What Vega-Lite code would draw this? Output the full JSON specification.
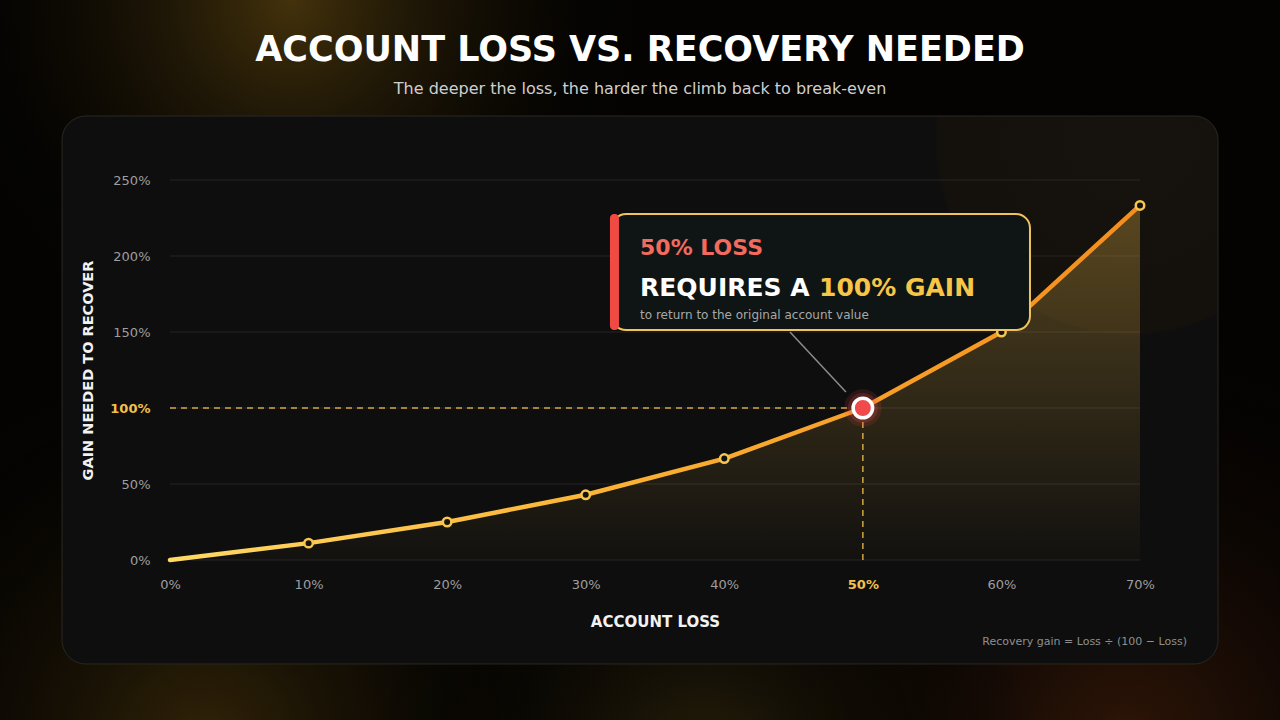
{
  "$schema": "https://vega.github.io/schema/vega-lite/v6.json",
  "width": 970,
  "height": 380,
  "autosize": {"type": "none"},
  "padding": {"left": 170, "top": 180, "right": 140, "bottom": 160},
  "background": "#040302",
  "config": {
    "view": {"stroke": null},
    "font": "DejaVu Sans"
  },
  "datasets": {
    "canvas": [{"x": -12.27, "x2": 80.1, "y": 368.42, "y2": -105.26}],
    "card": [{"x": -7.79, "x2": 75.63, "y": 292.1, "y2": -68.4}],
    "grid": [
      {"x": 0, "x2": 70, "y": 0},
      {"x": 0, "x2": 70, "y": 50},
      {"x": 0, "x2": 70, "y": 100},
      {"x": 0, "x2": 70, "y": 150},
      {"x": 0, "x2": 70, "y": 200},
      {"x": 0, "x2": 70, "y": 250}
    ],
    "curve": [
      {"loss": 0, "gain": 0},
      {"loss": 10, "gain": 11.1},
      {"loss": 20, "gain": 25},
      {"loss": 30, "gain": 42.9},
      {"loss": 40, "gain": 66.7},
      {"loss": 50, "gain": 100},
      {"loss": 60, "gain": 150},
      {"loss": 70, "gain": 233.3}
    ],
    "refs": [
      {"x": 0, "y": 100, "x2": 50, "y2": 100},
      {"x": 50, "y": 0, "x2": 50, "y2": 100}
    ],
    "connector": [{"x": 44.74, "y": 150, "x2": 48.78, "y2": 110.5}],
    "highlight": [{"x": 50, "y": 100}],
    "box": [{"x": 31.9, "x2": 62.06, "y": 227.6, "y2": 151.3}],
    "bar": [{"x": 31.75, "x2": 32.4, "y": 227.6, "y2": 151.3}],
    "title": [{"x": 33.92, "y": 335.5, "text": "ACCOUNT LOSS VS. RECOVERY NEEDED"}],
    "subtitle": [{"x": 33.92, "y": 309.9, "text": "The deeper the loss, the harder the climb back to break-even"}],
    "loss": [{"x": 33.92, "y": 205.5, "text": "50% LOSS"}],
    "requires": [{"x": 33.92, "y": 179.0, "text": "REQUIRES A"}],
    "gainText": [{"x": 46.84, "y": 179.0, "text": "100% GAIN"}],
    "note": [{"x": 33.92, "y": 161.5, "text": "to return to the original account value"}],
    "footnote": [{"x": 73.39, "y": -53.95, "text": "Recovery gain = Loss ÷ (100 − Loss)"}]
  },
  "encoding": {
    "x": {"field": "x", "type": "quantitative", "scale": {"domain": [0, 70], "nice": false, "zero": false},
      "axis": {"values": [0, 10, 20, 30, 40, 50, 60, 70], "labelExpr": "datum.value + '%'", "domain": false, "ticks": false, "grid": false, "labelFlush": false, "labelOverlap": false, "labelPadding": 18, "labelFontSize": 13,
        "labelColor": {"condition": {"test": "datum.value == 50", "value": "#f5c04a"}, "value": "#9e9e9e"},
        "labelFontWeight": {"condition": {"test": "datum.value == 50", "value": "bold"}, "value": "normal"},
        "title": "ACCOUNT LOSS", "titleFontSize": 15, "titleFontWeight": "bold", "titleColor": "#f2f2f2", "titlePadding": 23, "zindex": 1}},
    "y": {"field": "y", "type": "quantitative", "scale": {"domain": [0, 250], "nice": false, "zero": false},
      "axis": {"values": [0, 50, 100, 150, 200, 250], "labelExpr": "datum.value + '%'", "domain": false, "ticks": false, "grid": false, "labelOverlap": false, "labelPadding": 20, "labelFontSize": 13,
        "labelColor": {"condition": {"test": "datum.value == 100", "value": "#f5c04a"}, "value": "#9e9e9e"},
        "labelFontWeight": {"condition": {"test": "datum.value == 100", "value": "bold"}, "value": "normal"},
        "title": "GAIN NEEDED TO RECOVER", "titleFontSize": 14.5, "titleFontWeight": "bold", "titleColor": "#f2f2f2", "titlePadding": 14, "zindex": 1}}
  },
  "layer": [
    {
      "data": {"name": "canvas"},
      "mark": {"type": "rect", "fill": {"gradient": "radial", "x1": 0.227, "y1": 0.219, "r1": 0, "x2": 0.227, "y2": 0.219, "r2": 0.29, "stops": [{"offset": 0, "color": "rgba(68,50,12,1)"}, {"offset": 1, "color": "rgba(0,0,0,0)"}]}},
      "encoding": {"x2": {"field": "x2"}, "y2": {"field": "y2"}}
    },
    {
      "data": {"name": "canvas"},
      "mark": {"type": "rect", "fill": {"gradient": "radial", "x1": 0.16, "y1": 0.8, "r1": 0, "x2": 0.16, "y2": 0.8, "r2": 0.32, "stops": [{"offset": 0, "color": "rgba(50,36,8,1)"}, {"offset": 1, "color": "rgba(0,0,0,0)"}]}},
      "encoding": {"x2": {"field": "x2"}, "y2": {"field": "y2"}}
    },
    {
      "data": {"name": "canvas"},
      "mark": {"type": "rect", "fill": {"gradient": "radial", "x1": 0.88, "y1": 0.8, "r1": 0, "x2": 0.88, "y2": 0.8, "r2": 0.34, "stops": [{"offset": 0, "color": "rgba(48,22,8,1)"}, {"offset": 1, "color": "rgba(0,0,0,0)"}]}},
      "encoding": {"x2": {"field": "x2"}, "y2": {"field": "y2"}}
    },
    {
      "data": {"name": "canvas"},
      "mark": {"type": "rect", "fill": {"gradient": "radial", "x1": 0.55, "y1": 0.82, "r1": 0, "x2": 0.55, "y2": 0.82, "r2": 0.26, "stops": [{"offset": 0, "color": "rgba(40,32,10,1)"}, {"offset": 1, "color": "rgba(0,0,0,0)"}]}},
      "encoding": {"x2": {"field": "x2"}, "y2": {"field": "y2"}}
    },
    {
      "data": {"name": "card"},
      "mark": {"type": "rect", "cornerRadius": 24, "stroke": "#2b2823", "strokeWidth": 1, "fill": {"gradient": "radial", "x1": 0.924, "y1": 0.284, "r1": 0, "x2": 0.924, "y2": 0.284, "r2": 0.169, "stops": [{"offset": 0, "color": "#16130e"}, {"offset": 0.985, "color": "#14110d"}, {"offset": 1, "color": "#0e0e0e"}]}},
      "encoding": {"x2": {"field": "x2"}, "y2": {"field": "y2"}}
    },
    {
      "data": {"name": "grid"},
      "mark": {"type": "rule", "stroke": "#272522", "strokeWidth": 1},
      "encoding": {"x2": {"field": "x2"}}
    },
    {
      "data": {"name": "curve"},
      "mark": {"type": "area", "line": false, "fill": {"gradient": "linear", "x1": 0, "y1": 0, "x2": 0, "y2": 1, "stops": [{"offset": 0, "color": "rgba(245,192,74,0.30)"}, {"offset": 1, "color": "rgba(245,192,74,0.02)"}]}},
      "encoding": {
        "x": {"field": "loss", "type": "quantitative"},
        "y": {"field": "gain", "type": "quantitative"}
      }
    },
    {
      "data": {"name": "refs"},
      "mark": {"type": "rule", "stroke": "#f5c04a", "strokeWidth": 1.5, "strokeDash": [6, 5], "opacity": 0.85},
      "encoding": {"x2": {"field": "x2"}, "y2": {"field": "y2"}}
    },
    {
      "data": {"name": "connector"},
      "mark": {"type": "rule", "stroke": "#8c8c8c", "strokeWidth": 1.5},
      "encoding": {"x2": {"field": "x2"}, "y2": {"field": "y2"}}
    },
    {
      "data": {"name": "curve"},
      "mark": {"type": "line", "strokeWidth": 4.5, "strokeCap": "round", "strokeJoin": "round", "stroke": {"gradient": "linear", "x1": 0, "y1": 0, "x2": 1, "y2": 0, "stops": [{"offset": 0, "color": "#ffd966"}, {"offset": 0.45, "color": "#fbb234"}, {"offset": 1, "color": "#f58d1c"}]}},
      "encoding": {
        "x": {"field": "loss", "type": "quantitative"},
        "y": {"field": "gain", "type": "quantitative"}
      }
    },
    {
      "data": {"name": "curve"},
      "transform": [{"filter": "datum.loss > 0"}],
      "mark": {"type": "point", "filled": true, "shape": "circle", "size": 72, "fill": "#15130f", "stroke": "#f7c64f", "strokeWidth": 2.5, "opacity": 1},
      "encoding": {
        "x": {"field": "loss", "type": "quantitative"},
        "y": {"field": "gain", "type": "quantitative"}
      }
    },
    {
      "data": {"name": "highlight"},
      "mark": {"type": "point", "filled": true, "shape": "circle", "size": 1400, "fill": "#f04a4a", "opacity": 0.14}
    },
    {
      "data": {"name": "highlight"},
      "mark": {"type": "point", "filled": true, "shape": "circle", "size": 900, "fill": "#f04a4a", "opacity": 0.2}
    },
    {
      "data": {"name": "highlight"},
      "mark": {"type": "point", "filled": true, "shape": "circle", "size": 380, "fill": "#f04a4a", "stroke": "#ffffff", "strokeWidth": 3.5, "opacity": 1}
    },
    {
      "data": {"name": "box"},
      "mark": {"type": "rect", "cornerRadius": 14, "fill": "#0f1514", "stroke": "#f2c35a", "strokeWidth": 2},
      "encoding": {"x2": {"field": "x2"}, "y2": {"field": "y2"}}
    },
    {
      "data": {"name": "bar"},
      "mark": {"type": "rect", "cornerRadius": 4, "fill": "#f04a42"},
      "encoding": {"x2": {"field": "x2"}, "y2": {"field": "y2"}}
    },
    {
      "data": {"name": "title"},
      "mark": {"type": "text", "fontSize": 35, "fontWeight": "bold", "fill": "#ffffff", "align": "center", "baseline": "middle"},
      "encoding": {"text": {"field": "text"}}
    },
    {
      "data": {"name": "subtitle"},
      "mark": {"type": "text", "fontSize": 16, "fill": "#cfcfcf", "align": "center", "baseline": "middle"},
      "encoding": {"text": {"field": "text"}}
    },
    {
      "data": {"name": "loss"},
      "mark": {"type": "text", "fontSize": 22, "fontWeight": "bold", "fill": "#f26b5e", "align": "left", "baseline": "middle"},
      "encoding": {"text": {"field": "text"}}
    },
    {
      "data": {"name": "requires"},
      "mark": {"type": "text", "fontSize": 25, "fontWeight": "bold", "fill": "#ffffff", "align": "left", "baseline": "middle"},
      "encoding": {"text": {"field": "text"}}
    },
    {
      "data": {"name": "gainText"},
      "mark": {"type": "text", "fontSize": 25, "fontWeight": "bold", "fill": "#f7c548", "align": "left", "baseline": "middle"},
      "encoding": {"text": {"field": "text"}}
    },
    {
      "data": {"name": "note"},
      "mark": {"type": "text", "fontSize": 12, "fill": "#a8a8a8", "align": "left", "baseline": "middle"},
      "encoding": {"text": {"field": "text"}}
    },
    {
      "data": {"name": "footnote"},
      "mark": {"type": "text", "fontSize": 11, "fill": "#8f8f8f", "align": "right", "baseline": "middle"},
      "encoding": {"text": {"field": "text"}}
    }
  ]
}
